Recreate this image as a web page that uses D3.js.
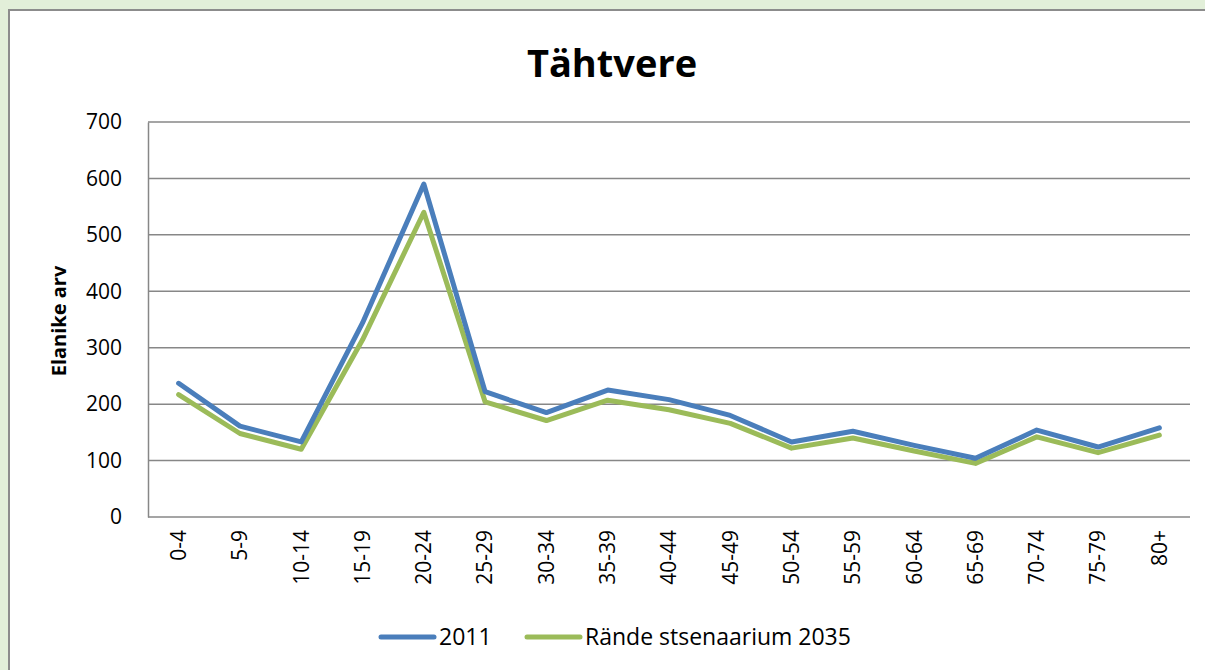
<!DOCTYPE html>
<html>
<head>
<meta charset="utf-8">
<script src="https://cdn.jsdelivr.net/npm/d3@7"></script>
<style>
  body { margin: 0; background: #e2efd9; overflow: hidden; }
  svg { display: block; font-family: "Open Sans", "Liberation Sans", sans-serif; }
</style>
</head>
<body>
<div class="container"></div>
<script>
// chart data
const ageGroups = ['0-4', '5-9', '10-14', '15-19', '20-24', '25-29', '30-34', '35-39', '40-44',
                   '45-49', '50-54', '55-59', '60-64', '65-69', '70-74', '75-79', '80+'];
const values2011 = [237, 161, 133, 344, 590, 222, 185, 225, 208, 180, 133, 152, 127, 104, 154, 124, 158];
const values2035 = [217, 148, 120, 314, 540, 204, 171, 207, 190, 166, 122, 140, 117, 95, 142, 114, 145];
const yTicks = [0, 100, 200, 300, 400, 500, 600, 700];
const seriesNames = ['2011', 'Rände stsenaarium 2035'];

// svg dimensions
const width = 1205;
const height = 670;
const plot = { left: 148, right: 1190, top: 122, bottom: 517 };
const colors = ['#4a7ebb', '#9bbb59'];

const svg = d3.select('.container')
    .append('svg')
    .attr('width', width)
    .attr('height', height)

// chart frame
svg.append('rect')
    .attr('x', 9)
    .attr('y', 10)
    .attr('width', width + 20)
    .attr('height', height + 20)
    .attr('fill', 'white')
    .attr('stroke', '#8c8c8c')
    .attr('stroke-width', 2)

// title
svg.append('text')
    .attr('x', 612)
    .attr('y', 77)
    .attr('text-anchor', 'middle')
    .attr('font-size', '38px')
    .attr('font-weight', 'bold')
    .attr('fill', 'black')
    .text('Tähtvere')

const xScale = d3.scaleBand().domain(ageGroups).range([plot.left, plot.right])
const yScale = d3.scaleLinear().domain([0, 700]).range([plot.bottom, plot.top])

// gridlines
svg.append('g')
    .selectAll('line')
    .data(yTicks)
    .enter()
    .append('line')
    .attr('x1', plot.left)
    .attr('x2', plot.right)
    .attr('y1', d => yScale(d))
    .attr('y2', d => yScale(d))
    .attr('stroke', '#878787')
    .attr('stroke-width', 1.5)

// Y axis
const yAxis = d3.axisLeft(yScale).tickValues(yTicks).tickSize(0).tickPadding(26)
const yG = svg.append('g')
    .attr('transform', `translate(${plot.left},0)`)
    .call(yAxis)
yG.select('.domain').attr('stroke', '#878787').attr('stroke-width', 1.5)
yG.selectAll('text')
    .attr('font-size', '21px')
    .attr('fill', 'black')
    .attr('font-family', '"Open Sans", "Liberation Sans", sans-serif')

// X axis
const xAxis = d3.axisBottom(xScale).tickSize(0).tickPadding(0)
const xG = svg.append('g')
    .attr('transform', `translate(0,${plot.bottom})`)
    .call(xAxis)
xG.select('.domain').remove()
xG.selectAll('text')
    .attr('font-size', '21px')
    .attr('fill', 'black')
    .attr('font-family', '"Open Sans", "Liberation Sans", sans-serif')
    .attr('text-anchor', 'end')
    .attr('dy', '0.35em')
    .attr('transform', 'translate(0,13) rotate(-90)')
    .attr('x', 0)
    .attr('y', 0)

// y axis label
svg.append('text')
    .attr('transform', 'translate(66,321) rotate(-90)')
    .attr('text-anchor', 'middle')
    .attr('font-size', '20px')
    .attr('font-weight', 'bold')
    .attr('fill', 'black')
    .text('Elanike arv')

// lines
const line = d3.line()
    .x((d, i) => xScale(ageGroups[i]) + xScale.bandwidth() / 2)
    .y(d => yScale(d))

const series = [values2011, values2035];
series.slice().reverse().forEach((vals, k) => {
    const idx = series.length - 1 - k;
    svg.append('path')
        .datum(vals)
        .attr('d', line)
        .attr('fill', 'none')
        .attr('stroke', colors[idx])
        .attr('stroke-width', 5)
        .attr('stroke-linejoin', 'round')
        .attr('stroke-linecap', 'round')
})

// legend
const legendX = [381, 527];
seriesNames.forEach((name, i) => {
    svg.append('line')
        .attr('x1', legendX[i])
        .attr('x2', legendX[i] + 53)
        .attr('y1', 637)
        .attr('y2', 637)
        .attr('stroke', colors[i])
        .attr('stroke-width', 5)
        .attr('stroke-linecap', 'round')
    svg.append('text')
        .attr('x', legendX[i] + 58)
        .attr('y', 645)
        .attr('font-size', '23px')
        .attr('fill', 'black')
        .text(name)
})
</script>
</body>
</html>
